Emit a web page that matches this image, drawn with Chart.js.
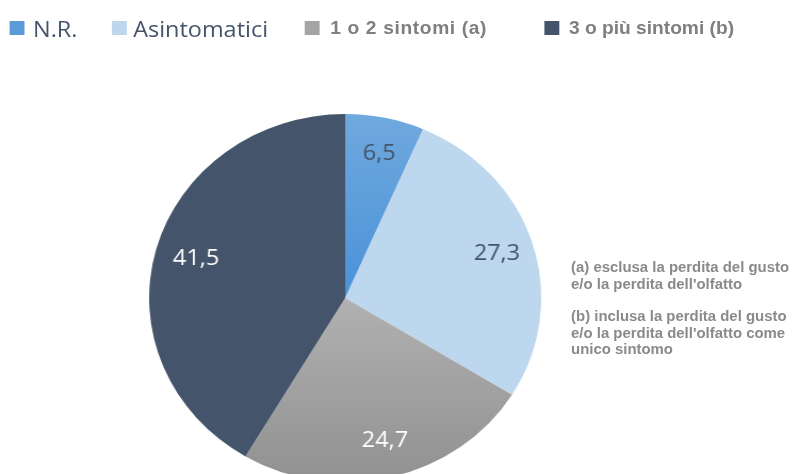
<!DOCTYPE html>
<html>
<head>
<meta charset="utf-8">
<script src="https://cdn.jsdelivr.net/npm/chart.js@4/dist/chart.umd.min.js"></script>
<style>
  html, body { margin: 0; padding: 0; background: #fff; overflow: hidden; }
  #page {
    position: relative; width: 748px; height: 474px; overflow: hidden;
    transform: scaleX(1.0654); transform-origin: 0 0;
  }
  .sq { position: absolute; width: 14px; height: 14px; top: 21px; }
  .lt { position: absolute; white-space: nowrap; }
  .lt.big { font-family: "Open Sans", sans-serif; font-size: 22px; color: #44546a; top: 13px; }
  .lt.small { font-family: "Liberation Sans", Arial, sans-serif; font-weight: bold; font-size: 18px; color: #7f7f7f; top: 18px; }
  #notes {
    position: absolute; left: 536px; top: 259px; width: 220px;
    font-family: "Liberation Sans", Arial, sans-serif; font-weight: bold;
    font-size: 14px; line-height: 16.5px; color: #8a8a8a;
  }
  #notes p { margin: 0 0 16px 0; }
  #pie { position: absolute; left: 124px; top: 98px; width: 400px; height: 400px; }
</style>
</head>
<body>
<div id="page">
  <div id="legend"></div>
  <div id="notes">
    <p>(a) esclusa la perdita del gusto<br>e/o la perdita dell'olfatto</p>
    <p>(b) inclusa la perdita del gusto<br>e/o la perdita dell'olfatto come<br>unico sintomo</p>
  </div>
  <canvas id="pie" width="400" height="400"></canvas>
</div>
<script>
const labels = ["N.R.", "Asintomatici", "1 o 2 sintomi (a)", "3 o più sintomi (b)"];
const values = [6.5, 27.3, 24.7, 41.5];
const valueText = ["6,5", "27,3", "24,7", "41,5"];
const colors = ["#5a9bd8", "#bdd7ee", "#a5a5a5", "#44546a"];
const labelColors = ["#44546a", "#44546a", "#ffffff", "#ffffff"];

// legend (html), first two items in a larger font like the original
const legendX = [[9, 31], [105, 125], [286, 310], [511, 534]];
const legendEl = document.getElementById("legend");
labels.forEach((name, i) => {
  const sq = document.createElement("div");
  sq.className = "sq";
  sq.style.left = legendX[i][0] + "px";
  sq.style.background = colors[i];
  legendEl.appendChild(sq);
  const t = document.createElement("div");
  t.className = "lt " + (i < 2 ? "big" : "small");
  t.style.left = legendX[i][1] + "px";
  if (i === 2) t.style.letterSpacing = "0.6px";
  t.textContent = name;
  legendEl.appendChild(t);
});

const valueLabels = {
  id: "valueLabels",
  afterDatasetsDraw(chart) {
    const ctx = chart.ctx;
    const meta = chart.getDatasetMeta(0);
    ctx.save();
    ctx.font = '22px "Open Sans", sans-serif';
    ctx.textAlign = "center";
    ctx.textBaseline = "middle";
    meta.data.forEach((arc, i) => {
      const p = arc.getProps(["x", "y", "startAngle", "endAngle", "outerRadius"], true);
      const mid = (p.startAngle + p.endAngle) / 2;
      const r = p.outerRadius * 0.8;
      ctx.fillStyle = labelColors[i];
      ctx.fillText(valueText[i], p.x + r * Math.cos(mid) + 2, p.y + r * Math.sin(mid));
    });
    ctx.restore();
  }
};

function sliceColor(context) {
  const i = context.dataIndex;
  const chart = context.chart;
  if (!chart.chartArea || (i !== 0 && i !== 2)) return colors[i];
  const g = chart.ctx.createLinearGradient(0, 16, 0, 384);
  if (i === 0) {
    g.addColorStop(0, "#70a9de");
    g.addColorStop(0.5, "#4a92d8");
    g.addColorStop(1, "#4a92d8");
  } else {
    g.addColorStop(0, "#b3b3b3");
    g.addColorStop(0.5, "#b1b1b1");
    g.addColorStop(1, "#919191");
  }
  return g;
}

new Chart(document.getElementById("pie").getContext("2d"), {
  type: "pie",
  data: {
    labels: labels,
    datasets: [{
      data: values,
      backgroundColor: sliceColor,
      borderWidth: 0,
    }],
  },
  options: {
    responsive: false,
    animation: false,
    radius: 184,
    layout: { padding: 0 },
    plugins: {
      legend: { display: false },
      tooltip: { enabled: false },
    },
  },
  plugins: [valueLabels],
});
</script>
</body>
</html>
